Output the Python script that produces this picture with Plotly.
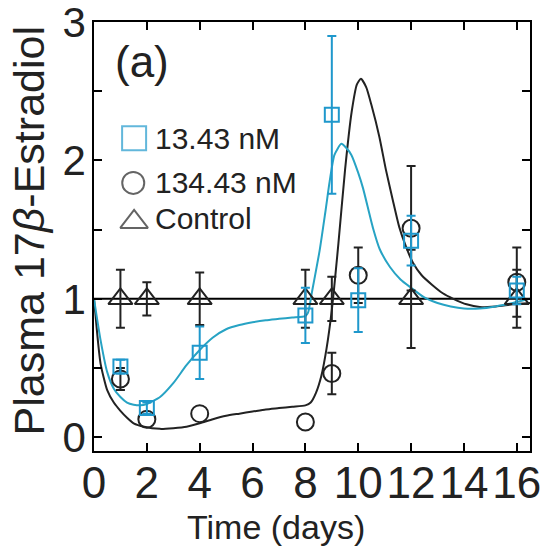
import plotly.graph_objects as go

# ---------------- data ----------------
t_sq = [1, 2, 4, 8, 9, 10, 12, 16]
v_sq = [0.51, 0.21, 0.61, 0.88, 2.33, 0.99, 1.42, 1.06]
e_sq = [0.05, 0.04, 0.19, 0.20, 0.57, 0.23, 0.18, 0.10]

t_ci = [1, 2, 4, 8, 9, 10, 12, 16]
v_ci = [0.42, 0.13, 0.17, 0.11, 0.46, 1.17, 1.51, 1.12]
e_ci = [0.08, None, None, None, 0.15, 0.20, 0.45, 0.25]

t_tr = [1, 2, 4, 8, 9, 12, 16]
v_tr = [1.0, 1.0, 1.0, 1.0, 1.0, 1.0, 1.0]
e_tr = [0.21, 0.12, 0.19, 0.21, 0.16, 0.355, 0.21]

control_t = [0, 16.5]
control_v = [1.0, 1.0]

# model curve, 13.43 nM
fit_low_t = [0, 0.25, 0.5, 0.75, 1.0, 1.25, 1.5, 1.75, 2.0, 2.5, 3.0, 3.5, 4.0, 4.5,
             5.0, 5.5, 6.0, 6.5, 7.0, 7.5, 8.0, 8.1, 8.25, 8.54, 8.75, 8.92, 9.1,
             9.36, 9.55, 9.74, 10.0, 10.18, 10.56, 10.81, 11.2, 11.6, 12.0, 12.5,
             13.0, 13.5, 14.0, 14.6, 15.2, 15.85, 16.5]
fit_low_v = [1.0, 0.70, 0.47, 0.35, 0.29, 0.25, 0.235, 0.23, 0.24, 0.29, 0.39, 0.52,
             0.63, 0.72, 0.78, 0.81, 0.83, 0.845, 0.855, 0.865, 0.875, 0.90, 1.05,
             1.35, 1.62, 1.85, 2.04, 2.12, 2.09, 2.04, 1.91, 1.80, 1.51, 1.36, 1.23,
             1.14, 1.08, 1.01, 0.97, 0.945, 0.93, 0.93, 0.945, 0.97, 1.0]

# model curve, 134.43 nM
fit_high_t = [0, 0.12, 0.25, 0.5, 0.75, 1.0, 1.25, 1.5, 1.9, 2.5, 3.0, 3.5, 4.0, 4.5,
              5.0, 5.5, 6.0, 6.5, 7.0, 7.5, 8.0, 8.2, 8.4, 8.6, 8.8, 9.0, 9.25, 9.5,
              9.75, 9.95, 10.1, 10.3, 10.5, 10.8, 11.05, 11.3, 11.55, 11.8, 12.07,
              12.4, 12.8, 13.2, 13.6, 14.1, 14.6, 15.2, 15.85, 16.5]
fit_high_v = [1.0, 0.75, 0.53, 0.34, 0.25, 0.19, 0.14, 0.10, 0.075, 0.06, 0.065,
              0.075, 0.10, 0.13, 0.155, 0.17, 0.185, 0.20, 0.21, 0.22, 0.23, 0.25,
              0.32, 0.44, 0.64, 0.92, 1.40, 1.93, 2.35, 2.55, 2.59, 2.53, 2.40, 2.17,
              1.93, 1.72, 1.52, 1.38, 1.26, 1.17, 1.10, 1.04, 1.0, 0.96, 0.94, 0.945,
              0.96, 0.97]

x_ticks = [0, 2, 4, 6, 8, 10, 12, 14, 16]
y_ticks = [0, 0.5, 1, 1.5, 2, 2.5, 3]
y_ticktext = ["0", "", "1", "", "2", "", "3"]

legend_labels = ["13.43 nM", "134.43 nM", "Control"]

# ---------------- style ----------------
TEAL = "#1f98cc"
TEAL_LINE = "#27a3c4"
BLACK = "#222222"
FONT = "Liberation Sans, Arial, sans-serif"

fig = go.Figure()

fig.add_trace(go.Scatter(x=control_t, y=control_v, mode="lines",
                         line=dict(color="black", width=2), showlegend=False,
                         hoverinfo="skip"))
fig.add_trace(go.Scatter(x=fit_high_t, y=fit_high_v, mode="lines",
                         line=dict(color=BLACK, width=2, shape="spline", smoothing=0.6),
                         showlegend=False))
fig.add_trace(go.Scatter(x=fit_low_t, y=fit_low_v, mode="lines",
                         line=dict(color=TEAL_LINE, width=2, shape="spline", smoothing=0.6),
                         showlegend=False))

fig.add_trace(go.Scatter(x=t_tr, y=v_tr, mode="markers",
                         marker=dict(symbol="triangle-up-open", size=21,
                                     color=BLACK, line=dict(width=2, color=BLACK)),
                         error_y=dict(type="data", array=e_tr, visible=True,
                                      color=BLACK, thickness=2, width=4.5),
                         showlegend=False))

# circles: error bars only where one is visible
ci_err_idx = [i for i, e in enumerate(e_ci) if e is not None]
fig.add_trace(go.Scatter(x=[t_ci[i] for i in ci_err_idx], y=[v_ci[i] for i in ci_err_idx],
                         mode="markers", marker=dict(size=1, opacity=0),
                         error_y=dict(type="data", array=[e_ci[i] for i in ci_err_idx],
                                      visible=True, color=BLACK, thickness=2, width=4.5),
                         showlegend=False, hoverinfo="skip"))
fig.add_trace(go.Scatter(x=t_ci, y=v_ci, mode="markers",
                         marker=dict(symbol="circle-open", size=17,
                                     color=BLACK, line=dict(width=2, color=BLACK)),
                         showlegend=False))
fig.add_trace(go.Scatter(x=t_sq, y=v_sq, mode="markers",
                         marker=dict(symbol="square-open", size=14,
                                     color=TEAL, line=dict(width=2, color=TEAL)),
                         error_y=dict(type="data", array=e_sq, visible=True,
                                      color=TEAL, thickness=2, width=4.5),
                         showlegend=False))

# manual legend on an overlay axis (fractions of the plot area)
leg_x = [0.092, 0.090, 0.092]
leg_y = [0.729, 0.625, 0.534]
leg_sym = ["square-open", "circle-open", "triangle-up-open"]
leg_size = [24, 22, 24]
leg_col = [TEAL, BLACK, BLACK]
fig.add_trace(go.Scatter(x=leg_x, y=leg_y, mode="markers", xaxis="x2", yaxis="y2",
                         marker=dict(symbol=leg_sym, size=leg_size, color=leg_col,
                                     line=dict(width=2, color=leg_col)),
                         showlegend=False, hoverinfo="skip"))

annotations = []
for lbl, yy in zip(legend_labels, [0.729, 0.625, 0.541]):
    annotations.append(dict(xref="paper", yref="paper", x=0.135, y=yy, text=lbl,
                            showarrow=False, xanchor="left", yanchor="middle",
                            font=dict(family=FONT, size=30, color=BLACK)))
annotations.append(dict(xref="paper", yref="paper", x=0.11, y=0.907, text="(a)",
                        showarrow=False, xanchor="center", yanchor="middle",
                        font=dict(family=FONT, size=44, color=BLACK)))
annotations.append(dict(xref="paper", yref="paper", x=-0.149, y=0.512,
                        text="Plasma 17<i>β</i>-Estradiol", textangle=-90,
                        showarrow=False, xanchor="center", yanchor="middle",
                        font=dict(family=FONT, size=43, color=BLACK)))
annotations.append(dict(xref="paper", yref="paper", x=0.417, y=-0.178,
                        text="Time (days)",
                        showarrow=False, xanchor="center", yanchor="middle",
                        font=dict(family=FONT, size=34, color=BLACK)))

axis_common = dict(showline=True, linecolor="black", linewidth=1.5, mirror="ticks",
                   ticks="inside", ticklen=8, tickwidth=1.5, tickcolor="black",
                   showgrid=False, zeroline=False, tickangle=0, automargin=False)

fig.update_layout(
    width=547, height=551,
    margin=dict(l=94, r=17, t=22, b=100),
    paper_bgcolor="white", plot_bgcolor="white",
    showlegend=False,
    xaxis=dict(range=[0, 16.5], tickvals=x_ticks, ticktext=[str(v) for v in x_ticks],
               ticklabelstandoff=-8, tickfont=dict(family=FONT, size=44, color=BLACK),
               **axis_common),
    yaxis=dict(range=[-0.1, 3.0005], tickvals=y_ticks, ticktext=y_ticktext,
               ticklabelstandoff=-2, tickfont=dict(family=FONT, size=42, color=BLACK),
               **axis_common),
    xaxis2=dict(overlaying="x", range=[0, 1], visible=False),
    yaxis2=dict(overlaying="y", range=[0, 1], visible=False),
    annotations=annotations,
)

fig.write_html("out.html")
